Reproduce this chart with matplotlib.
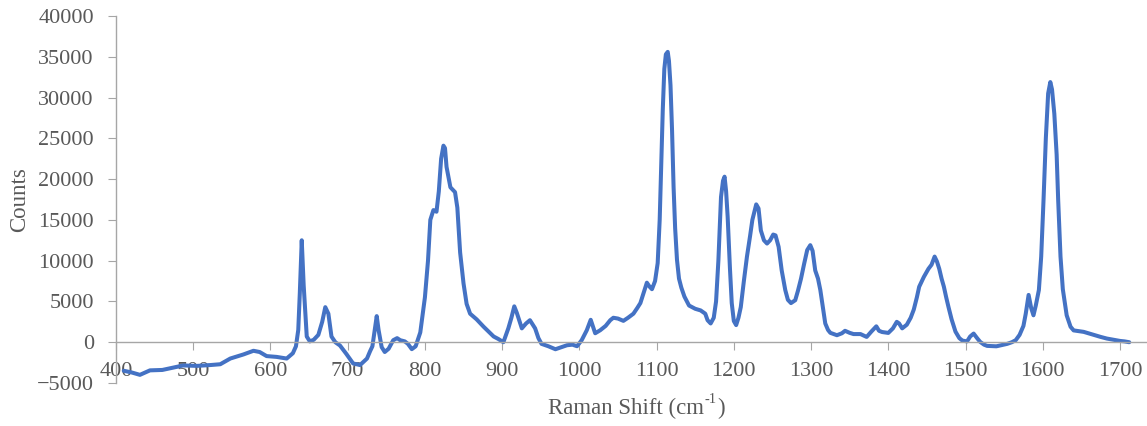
import numpy as np
import matplotlib.pyplot as plt

# Raman shift (cm-1) and counts (rows of 10 kept aligned)
shift = [410, 420, 431, 444, 460, 475, 487, 505, 522, 535,
         548, 565, 578, 586, 595, 608, 621, 629, 633, 636,
         638, 640.5, 643, 647, 651, 656, 662, 667, 671, 675,
         679, 684, 690, 698, 707, 716, 725, 729, 732, 735,
         737.6, 740, 744, 748, 753, 759, 764, 768, 774, 778,
         783, 788, 794, 800, 804, 807, 811, 815, 818, 821,
         824, 826, 828, 833, 839, 842, 845.6, 850, 854, 858.5,
         867, 876, 889, 895, 901.6, 908, 912, 915.7, 919, 925.5,
         931, 936, 942.7, 947, 951, 960, 969, 977, 984, 991,
         997, 1003, 1009.6, 1014.7, 1020.5, 1027, 1034, 1040, 1044, 1050,
         1057, 1063, 1070, 1075, 1079, 1083, 1087.4, 1091, 1094, 1098,
         1101.4, 1104, 1106, 1108, 1110, 1112, 1114.4, 1116, 1118, 1120,
         1122, 1124, 1126.4, 1129, 1132, 1136, 1142, 1150, 1157, 1163,
         1166, 1170, 1174, 1177, 1180, 1183.4, 1186, 1188, 1190, 1192,
         1195, 1197.3, 1200, 1203, 1206, 1209, 1213, 1217, 1221, 1224,
         1229, 1232, 1235, 1239, 1243, 1247, 1251, 1254, 1258, 1262,
         1266.6, 1270, 1274, 1279.5, 1283, 1287, 1291, 1295, 1299, 1302,
         1305.4, 1309, 1312, 1315, 1318.4, 1322, 1325, 1333.5, 1340, 1344,
         1350, 1355, 1364, 1372, 1378, 1384.5, 1388, 1392, 1400, 1406,
         1411, 1414, 1418, 1424, 1429, 1433, 1437, 1440, 1446, 1452,
         1456, 1460, 1463, 1466, 1469, 1472, 1475, 1478, 1482, 1487,
         1492, 1496, 1502, 1506, 1510.5, 1515, 1519, 1524, 1528, 1540,
         1554, 1560, 1565, 1570, 1575, 1578, 1581.7, 1585, 1588, 1591,
         1595, 1598, 1601, 1604, 1607, 1609.8, 1612, 1615, 1618, 1620,
         1623, 1626, 1631, 1636, 1640, 1653, 1666, 1675, 1683, 1692,
         1700, 1706, 1712]
counts = [-3500, -3700, -4000, -3450, -3400, -3100, -2850, -2900, -2800, -2700,
          -2000, -1500, -1050, -1200, -1700, -1800, -2000, -1350, -500, 1500,
          6000, 12500, 7000, 700, 100, 300, 900, 2500, 4300, 3500,
          700, 0, -400, -1400, -2600, -2800, -2000, -1100, -500, 1500,
          3200, 1500, -600, -1200, -800, 250, 500, 250, 100, -200,
          -850, -500, 1200, 5500, 10000, 15000, 16200, 16000, 18500, 22500,
          24100, 23800, 21500, 19000, 18400, 16500, 11000, 7200, 4700, 3500,
          2800, 1900, 700, 400, 0, 1700, 3000, 4400, 3600, 1700,
          2300, 2700, 1700, 500, -200, -500, -860, -600, -370, -300,
          -490, 250, 1470, 2750, 1100, 1470, 2000, 2700, 3000, 2900,
          2620, 3000, 3500, 4200, 4800, 6000, 7300, 6800, 6500, 7500,
          9700, 15000, 22000, 28500, 33500, 35300, 35600, 34500, 31500, 26000,
          19000, 14000, 10100, 7800, 6700, 5600, 4500, 4100, 3900, 3500,
          2700, 2300, 3000, 5000, 10000, 17800, 19800, 20300, 18500, 15400,
          9000, 4800, 2600, 2100, 3000, 4300, 7500, 10500, 13000, 15000,
          16900, 16400, 13700, 12500, 12100, 12500, 13200, 13100, 11700, 8800,
          6400, 5200, 4800, 5150, 6300, 7800, 9600, 11300, 11900, 11200,
          8800, 7800, 6400, 4500, 2300, 1500, 1150, 860, 1100, 1400,
          1150, 1000, 1000, 650, 1300, 1950, 1400, 1250, 1140, 1700,
          2500, 2300, 1700, 2150, 3000, 4000, 5500, 6800, 8000, 9000,
          9500, 10500, 9900, 9000, 7800, 6800, 5500, 4300, 2800, 1300,
          500, 200, 100, 700, 1060, 500, 40, -300, -450, -500,
          -200, 0, 250, 900, 2000, 3500, 5800, 4200, 3300, 4500,
          6400, 10500, 17400, 25000, 30500, 31900, 31000, 28000, 23000, 17400,
          10500, 6500, 3300, 1900, 1450, 1270, 900, 650, 450, 300,
          160, 100, 0]

fig = plt.figure(figsize=(11.47, 4.26), dpi=100)
ax = fig.add_axes([116 / 1147, 43 / 426, 1031 / 1147, 367 / 426])

ax.plot(shift, counts, color='#4472C4', linewidth=2.9,
        solid_joinstyle='round', solid_capstyle='round')

ax.set_xlim(400, 1735)
ax.set_ylim(-5000, 40000)
ax.set_xticks(np.arange(400, 1701, 100))
ax.set_yticks(np.arange(-5000, 40001, 5000))

for s in ['top', 'right']:
    ax.spines[s].set_visible(False)
ax.spines['bottom'].set_position(('data', 0))
for s in ['bottom', 'left']:
    ax.spines[s].set_color('#A6A6A6')
    ax.spines[s].set_linewidth(1.0)

font = 'Liberation Serif'
ax.tick_params(axis='both', colors='#A6A6A6', labelcolor='#595959', labelsize=16)
ax.tick_params(axis='x', direction='out', length=6, pad=8)
ax.tick_params(axis='y', direction='out', length=6, pad=10)
for lab in ax.get_xticklabels() + ax.get_yticklabels():
    lab.set_fontfamily(font)

ax.set_ylabel('Counts', fontsize=16.5, color='#595959', fontfamily=font)
ax.yaxis.set_label_coords(-0.083, 0.5)

# x label with a plain hyphen superscript, built from three pieces
r = fig.canvas.get_renderer()
t1 = fig.text(0, 0.042, 'Raman Shift (cm', fontsize=16.5, color='#595959',
              fontfamily=font, va='center')
t2 = fig.text(0, 0.062, '-1', fontsize=10.5, color='#595959',
              fontfamily=font, va='center')
t3 = fig.text(0, 0.042, ')', fontsize=16.5, color='#595959',
              fontfamily=font, va='center')
w1 = t1.get_window_extent(r).width
w2 = t2.get_window_extent(r).width
w3 = t3.get_window_extent(r).width
x0 = 636 - (w1 + w2 + w3) / 2
t1.set_x(x0 / 1147)
t2.set_x((x0 + w1) / 1147)
t3.set_x((x0 + w1 + w2 + 1) / 1147)

fig.savefig('out.png', dpi=100)
